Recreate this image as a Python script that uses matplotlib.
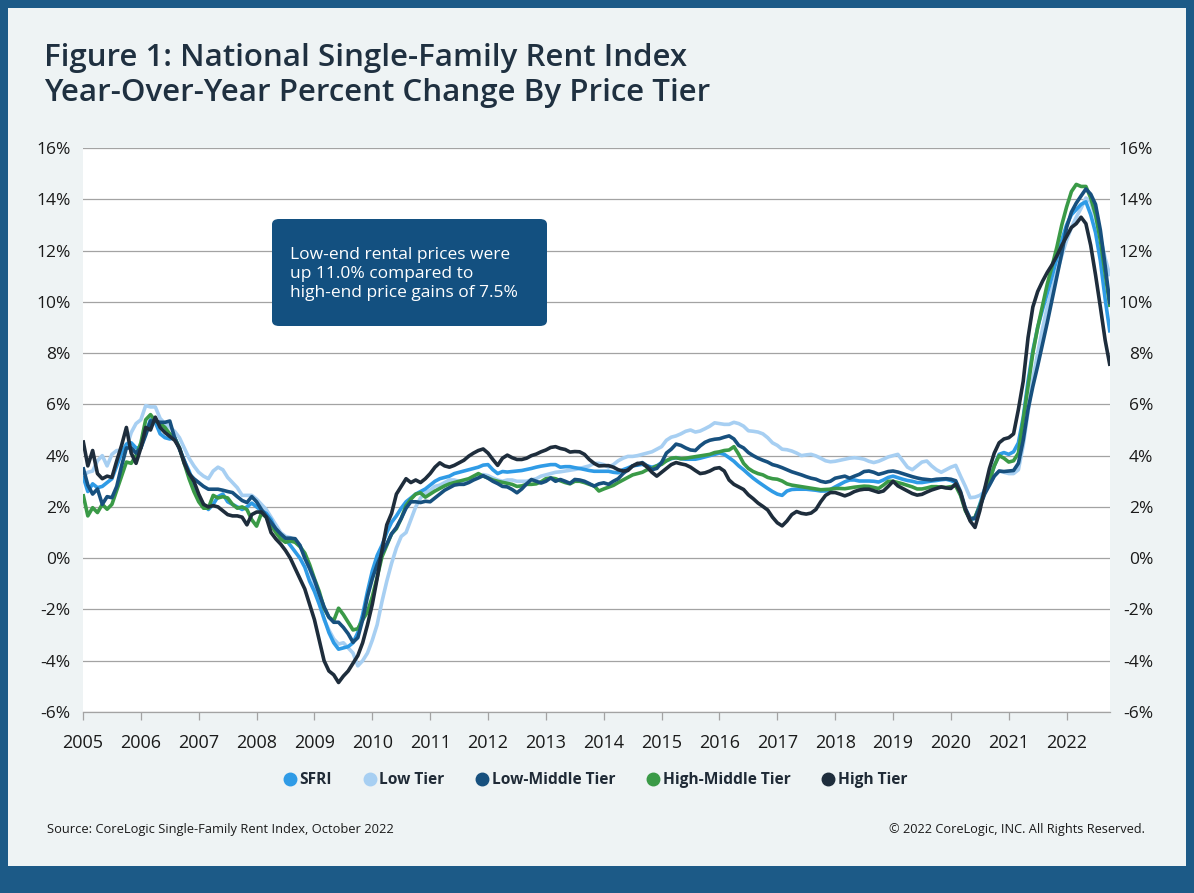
import numpy as np
import matplotlib
matplotlib.use("Agg")
import matplotlib.pyplot as plt
from matplotlib.patches import FancyBboxPatch, Rectangle
from matplotlib.lines import Line2D
from matplotlib.ticker import FuncFormatter, MultipleLocator

plt.rcParams['font.family'] = ['Open Sans', 'DejaVu Sans']

# ---------------- data (monthly YoY % change, Jan 2005 - Oct 2022) ----------------
start_year = 2005
year_ticks = list(range(2005, 2023))

sfri = [
    3.2, 2.6, 2.9, 2.75, 2.8, 2.95, 3.1, 3.6, 4.1, 4.45, 4.5, 4.3,
    4.3, 4.9, 5.4, 5.3, 4.85, 4.7, 4.65, 4.7, 4.3, 3.8, 3.4, 2.9,
    2.4, 2.1, 1.9, 2.1, 2.4, 2.5, 2.2, 2.1, 2.0, 1.9, 2.0, 2.15,
    2.0, 1.85, 1.75, 1.5, 1.1, 0.87, 0.74, 0.5, 0.25, 0.0, -0.35, -0.9,
    -1.3, -1.8, -2.35, -2.9, -3.3, -3.55, -3.5, -3.45, -3.3, -2.9, -2.2, -1.3,
    -0.5, 0.1, 0.5, 1.0, 1.4, 1.65, 1.95, 2.2, 2.35, 2.5, 2.6, 2.7,
    2.85, 3.0, 3.1, 3.15, 3.2, 3.3, 3.35, 3.4, 3.45, 3.5, 3.55, 3.63,
    3.65, 3.45, 3.3, 3.38, 3.36, 3.38, 3.4, 3.42, 3.46, 3.5, 3.55, 3.59,
    3.62, 3.65, 3.65, 3.55, 3.57, 3.57, 3.53, 3.5, 3.46, 3.42, 3.39, 3.39,
    3.39, 3.39, 3.35, 3.33, 3.45, 3.52, 3.6, 3.63, 3.66, 3.6, 3.55, 3.6,
    3.73, 3.8, 3.88, 3.92, 3.88, 3.86, 3.86, 3.86, 3.9, 3.95, 4.0, 4.05,
    4.1, 4.05, 3.92, 3.78, 3.6, 3.45, 3.28, 3.12, 2.98, 2.85, 2.72, 2.6,
    2.5, 2.45, 2.62, 2.68, 2.69, 2.69, 2.69, 2.67, 2.65, 2.62, 2.62, 2.68,
    2.78, 2.88, 2.98, 3.05, 3.05, 3.01, 3.01, 3.01, 3.0, 2.97, 3.05, 3.15,
    3.2, 3.14, 3.08, 3.03, 3.0, 2.95, 2.95, 2.98, 3.01, 3.03, 3.06, 3.08,
    3.03, 2.95, 2.5, 1.9, 1.5, 1.55, 2.1, 2.7, 3.1, 3.6, 4.05, 4.12,
    4.05, 4.15, 4.5, 5.5, 6.9, 8.1, 9.0, 9.7, 10.35, 11.0, 11.7, 12.4,
    13.0, 13.4, 13.6, 13.8, 13.9, 13.4, 12.7, 11.6, 10.1, 8.8,
]

low_tier = [
    3.2, 3.35, 3.4, 3.8, 4.0, 3.6, 4.05, 4.2, 4.2, 4.3, 4.9, 5.25,
    5.4, 5.95, 5.9, 5.9, 5.45, 5.25, 5.1, 4.95, 4.7, 4.3, 3.9, 3.6,
    3.35, 3.2, 3.1, 3.4, 3.55, 3.45, 3.15, 2.95, 2.75, 2.45, 2.45, 2.45,
    2.3, 2.1, 1.9, 1.6, 1.3, 1.0, 0.85, 0.8, 0.7, 0.5, 0.1, -0.4,
    -1.0, -1.7, -2.4, -2.8, -3.15, -3.35, -3.3, -3.5, -3.7, -4.2, -4.0, -3.7,
    -3.2, -2.6, -1.7, -0.9, -0.2, 0.4, 0.85, 1.0, 1.5, 2.0, 2.35, 2.55,
    2.65, 2.8, 2.85, 2.95, 3.05, 3.05, 3.0, 3.0, 3.05, 3.13, 3.2, 3.26,
    3.22, 3.13, 3.05, 3.0, 3.05, 3.05, 3.0, 3.0, 3.0, 3.05, 3.1, 3.2,
    3.25, 3.3, 3.35, 3.37, 3.4, 3.43, 3.46, 3.5, 3.55, 3.6, 3.7, 3.7,
    3.65, 3.55, 3.65, 3.8, 3.9, 3.97, 3.97, 4.0, 4.05, 4.1, 4.15, 4.25,
    4.35, 4.6, 4.72, 4.77, 4.85, 4.95, 5.0, 4.92, 4.96, 5.05, 5.15, 5.28,
    5.25, 5.22, 5.22, 5.3, 5.25, 5.15, 4.97, 4.95, 4.92, 4.85, 4.7, 4.5,
    4.4, 4.25, 4.23, 4.18, 4.1, 4.0, 4.03, 4.05, 3.99, 3.9, 3.8, 3.76,
    3.78, 3.82, 3.86, 3.9, 3.92, 3.9, 3.86, 3.78, 3.73, 3.78, 3.86, 3.95,
    4.0, 4.05, 3.8, 3.55, 3.45, 3.6, 3.75, 3.79, 3.6, 3.45, 3.35, 3.45,
    3.55, 3.62, 3.2, 2.8, 2.36, 2.38, 2.45, 2.6, 2.85, 3.2, 3.4, 3.35,
    3.3, 3.3, 3.45, 4.4, 5.7, 7.0, 8.0, 8.95, 9.8, 10.5, 11.15, 11.8,
    12.4, 12.9, 13.3, 13.65, 14.05, 13.9, 13.3, 12.5, 11.7, 11.0,
]

low_middle = [
    3.55, 2.85, 2.5, 2.7, 2.1, 2.4, 2.36, 2.8, 3.6, 4.3, 4.3, 4.1,
    4.3, 4.8, 5.35, 5.35, 5.3, 5.3, 5.35, 4.7, 4.25, 3.8, 3.3, 3.1,
    2.95, 2.8, 2.69, 2.69, 2.69, 2.65, 2.6, 2.56, 2.4, 2.25, 2.17, 2.4,
    2.2, 1.9, 1.65, 1.4, 1.15, 0.95, 0.78, 0.78, 0.76, 0.5, 0.0, -0.4,
    -0.85, -1.4, -1.9, -2.3, -2.5, -2.5, -2.7, -2.95, -3.28, -3.1, -2.4, -1.5,
    -0.8, -0.25, 0.2, 0.55, 0.95, 1.2, 1.55, 1.95, 2.2, 2.2, 2.17, 2.22,
    2.2, 2.35, 2.5, 2.65, 2.75, 2.85, 2.88, 2.88, 2.95, 3.05, 3.13, 3.22,
    3.12, 3.0, 2.91, 2.8, 2.78, 2.68, 2.55, 2.7, 2.9, 3.07, 3.0, 2.93,
    3.0, 3.13, 3.0, 3.07, 3.0, 2.92, 3.07, 3.05, 3.0, 2.91, 2.81, 2.9,
    2.94, 2.88, 3.0, 3.1, 3.3, 3.45, 3.6, 3.65, 3.73, 3.6, 3.45, 3.5,
    3.73, 4.1, 4.25, 4.45, 4.4, 4.3, 4.22, 4.2, 4.38, 4.52, 4.6, 4.64,
    4.66, 4.72, 4.77, 4.65, 4.4, 4.3, 4.12, 4.0, 3.9, 3.82, 3.75, 3.65,
    3.6, 3.53, 3.45, 3.37, 3.31, 3.25, 3.18, 3.12, 3.08, 3.0, 2.96, 3.0,
    3.12, 3.16, 3.2, 3.12, 3.2, 3.27, 3.38, 3.4, 3.35, 3.27, 3.32, 3.38,
    3.4, 3.36, 3.3, 3.24, 3.18, 3.13, 3.09, 3.07, 3.05, 3.08, 3.09, 3.1,
    3.08, 3.02, 2.6, 1.95, 1.55, 1.55, 2.0, 2.5, 2.85, 3.2, 3.4, 3.38,
    3.4, 3.42, 3.7, 4.6, 5.8, 6.7, 7.5, 8.35, 9.2, 10.1, 11.0, 11.9,
    12.9, 13.5, 13.85, 14.13, 14.4, 14.2, 13.8, 12.8, 11.4, 9.9,
]

high_middle = [
    2.5, 1.65, 1.97, 1.78, 2.1, 1.91, 2.1, 2.65, 3.2, 3.75, 3.7, 4.0,
    4.5, 5.4, 5.6, 5.35, 5.25, 5.1, 4.85, 4.7, 4.3, 3.7, 3.1, 2.6,
    2.2, 1.95, 1.95, 2.45, 2.35, 2.4, 2.35, 2.1, 1.95, 2.0, 1.9, 1.5,
    1.25, 1.75, 1.6, 1.3, 1.0, 0.75, 0.62, 0.67, 0.62, 0.45, 0.2, -0.25,
    -0.8, -1.3, -1.95, -2.3, -2.44, -1.95, -2.2, -2.5, -2.8, -2.75, -2.4, -2.1,
    -1.5, -0.75, 0.05, 0.5, 0.95, 1.15, 1.55, 2.05, 2.3, 2.5, 2.55, 2.38,
    2.5, 2.62, 2.72, 2.82, 2.9, 2.95, 3.0, 3.05, 3.1, 3.2, 3.3, 3.2,
    3.13, 3.05, 3.0, 2.96, 2.92, 2.88, 2.8, 2.82, 2.88, 2.88, 2.9, 2.98,
    3.1, 3.13, 3.1, 3.02, 2.95, 2.9, 3.0, 3.0, 2.95, 2.88, 2.82, 2.62,
    2.7, 2.77, 2.84, 2.95, 3.05, 3.15, 3.25, 3.3, 3.35, 3.45, 3.5, 3.6,
    3.66, 3.8, 3.9, 3.92, 3.88, 3.9, 3.93, 3.96, 3.99, 4.02, 4.05, 4.12,
    4.15, 4.2, 4.22, 4.35, 4.05, 3.7, 3.5, 3.38, 3.3, 3.25, 3.15, 3.1,
    3.08, 3.01, 2.9, 2.85, 2.82, 2.79, 2.76, 2.73, 2.7, 2.67, 2.68, 2.69,
    2.72, 2.72, 2.71, 2.74, 2.77, 2.79, 2.81, 2.8, 2.76, 2.72, 2.85, 3.0,
    3.0, 2.95, 2.9, 2.84, 2.78, 2.7, 2.7, 2.74, 2.79, 2.79, 2.77, 2.76,
    2.79, 2.82, 2.45, 1.85, 1.5, 1.6, 2.05, 2.55, 3.0, 3.6, 4.0, 3.9,
    3.75, 3.8, 4.1, 5.4, 6.7, 8.0, 9.0, 9.85, 10.7, 11.4, 12.15, 13.0,
    13.7, 14.3, 14.58, 14.5, 14.5, 14.05, 13.4, 12.4, 11.1, 9.8,
]

high_tier = [
    4.6, 3.6, 4.2, 3.3, 3.1, 3.2, 3.15, 3.8, 4.4, 5.1, 4.1, 3.7,
    4.3, 5.1, 5.0, 5.5, 5.1, 4.9, 4.75, 4.6, 4.3, 3.7, 3.3, 3.0,
    2.5, 2.1, 2.0, 2.05, 2.0, 1.85, 1.7, 1.65, 1.65, 1.6, 1.3, 1.7,
    1.8, 1.8, 1.6, 1.0, 0.75, 0.55, 0.3, 0.0, -0.4, -0.8, -1.2, -1.8,
    -2.4, -3.2, -4.0, -4.4, -4.55, -4.85, -4.6, -4.4, -4.1, -3.8, -3.3, -2.6,
    -1.8, -0.8, 0.3, 1.3, 1.75, 2.5, 2.8, 3.1, 2.95, 3.05, 2.95, 3.1,
    3.3, 3.55, 3.72, 3.6, 3.55, 3.62, 3.72, 3.82, 3.98, 4.1, 4.2, 4.26,
    4.1, 3.85, 3.62, 3.9, 4.02, 3.92, 3.85, 3.85, 3.9, 4.0, 4.06, 4.15,
    4.22, 4.32, 4.35, 4.28, 4.24, 4.14, 4.16, 4.15, 4.05, 3.85, 3.7, 3.6,
    3.61, 3.61, 3.55, 3.45, 3.4, 3.42, 3.6, 3.7, 3.7, 3.55, 3.35, 3.2,
    3.35, 3.5, 3.65, 3.73, 3.68, 3.64, 3.55, 3.42, 3.3, 3.33, 3.4, 3.5,
    3.53, 3.4, 3.05, 2.88, 2.78, 2.68, 2.47, 2.32, 2.15, 2.02, 1.88, 1.6,
    1.38, 1.26, 1.45, 1.7, 1.82, 1.75, 1.72, 1.76, 1.9, 2.2, 2.45, 2.56,
    2.56, 2.5, 2.43, 2.5, 2.6, 2.66, 2.69, 2.69, 2.63, 2.57, 2.62, 2.8,
    3.0, 2.82, 2.72, 2.62, 2.52, 2.46, 2.49, 2.58, 2.66, 2.72, 2.78, 2.74,
    2.72, 2.9, 2.55, 1.9, 1.45, 1.2, 1.85, 2.7, 3.5, 4.1, 4.5, 4.65,
    4.7, 4.85, 5.8, 6.9, 8.6, 9.8, 10.4, 10.8, 11.15, 11.45, 11.8, 12.2,
    12.55, 12.9, 13.05, 13.3, 13.05, 12.2, 11.05, 9.8, 8.5, 7.5,
]

series_names = ["SFRI", "Low Tier", "Low-Middle Tier", "High-Middle Tier", "High Tier"]
series_colors = ["#2f9be6", "#a7cff2", "#17507e", "#3a9a47", "#1e2d3c"]

title_lines = ["Figure 1: National Single-Family Rent Index",
               "Year-Over-Year Percent Change By Price Tier"]
note_text = "Low-end rental prices were\nup 11.0% compared to\nhigh-end price gains of 7.5%"
source_text = "Source: CoreLogic Single-Family Rent Index, October 2022"
copyright_text = "\u00a9 2022 CoreLogic, INC. All Rights Reserved."

# ---------------- figure ----------------
W, H = 1194, 893
fig = plt.figure(figsize=(W / 100, H / 100), dpi=100)
fig.patch.set_facecolor("#1c5a87")

def fx(px):
    return px / W

def fy(py):
    return 1 - py / H

# inner light panel (border frame = blue fig background)
fig.add_artist(Rectangle((fx(8), fy(866)), fx(1186) - fx(8), fy(8) - fy(866),
                         transform=fig.transFigure, facecolor="#eef3f4",
                         edgecolor="none", zorder=0))

ax = fig.add_axes([fx(83), fy(712), fx(1110) - fx(83), fy(148) - fy(712)])
ax.set_facecolor("white")

n = len(sfri)
x = start_year + np.arange(n) / 12.0

data = {"SFRI": sfri, "Low Tier": low_tier, "Low-Middle Tier": low_middle,
        "High-Middle Tier": high_middle, "High Tier": high_tier}
color_map = dict(zip(series_names, series_colors))
draw_order = ["Low Tier", "SFRI", "High-Middle Tier", "Low-Middle Tier", "High Tier"]
for z, name in enumerate(draw_order):
    ax.plot(x, data[name], color=color_map[name], lw=2.6, zorder=3 + z,
            solid_joinstyle="round", solid_capstyle="butt")

ax.set_xlim(2005, 2022.75)
ax.set_ylim(-6, 16)
ax.yaxis.set_major_locator(MultipleLocator(2))
ax.yaxis.set_major_formatter(FuncFormatter(lambda v, p: f"{int(round(v))}%"))
ax.set_xticks(year_ticks)
ax.set_xticklabels([str(y) for y in year_ticks])
ax.grid(axis="y", color="#a3a3a3", lw=0.9, zorder=1)
for s in ["top", "left", "right"]:
    ax.spines[s].set_visible(False)
ax.spines["bottom"].set_color("#a3a3a3")
ax.spines["bottom"].set_linewidth(0.9)
ax.tick_params(axis="x", length=6, width=0.9, color="#a3a3a3", pad=10,
               labelsize=13, labelcolor="#1a1a1a")
ax.tick_params(axis="y", length=0, pad=9, labelsize=12.5, labelcolor="#1a1a1a")

ax2 = ax.twinx()
ax2.set_ylim(-6, 16)
ax2.yaxis.set_major_locator(MultipleLocator(2))
ax2.yaxis.set_major_formatter(FuncFormatter(lambda v, p: f"{int(round(v))}%"))
for s in ["top", "left", "right", "bottom"]:
    ax2.spines[s].set_visible(False)
ax2.tick_params(axis="y", length=0, pad=31, labelsize=12.5, labelcolor="#1a1a1a")
for lab in ax2.get_yticklabels():
    lab.set_horizontalalignment("right")

# title
fig.text(fx(44), fy(58), title_lines[0], fontsize=22.5, fontweight="semibold",
         color="#1f3040", va="center", ha="left")
fig.text(fx(44), fy(93), title_lines[1], fontsize=22.5, fontweight="semibold",
         color="#1f3040", va="center", ha="left")

# annotation box
box = FancyBboxPatch((fx(272), fy(326)), fx(547) - fx(272), fy(219) - fy(326),
                     boxstyle="round,pad=0,rounding_size=0.006",
                     transform=fig.transFigure, facecolor="#135080",
                     edgecolor="none", zorder=10)
fig.add_artist(box)
fig.text(fx(290), fy(274), note_text, fontsize=12.5, color="white",
         va="center", ha="left", linespacing=1.22, zorder=11)

# legend
handles = [Line2D([0], [0], marker="o", linestyle="none", markersize=9,
                  markerfacecolor=color_map[nm], markeredgecolor=color_map[nm])
           for nm in series_names]
leg = fig.legend(handles, series_names, loc="center", ncol=5,
                 bbox_to_anchor=(fx(595), fy(780)), frameon=False,
                 handletextpad=0.15, columnspacing=2.0, handlelength=0.9,
                 prop={"size": 11.2, "weight": "bold"})
for t in leg.get_texts():
    t.set_color("#1f2a36")

# footer
fig.text(fx(47), fy(830), source_text, fontsize=9.3, color="#1a1a1a",
         va="center", ha="left")
fig.text(fx(1145), fy(830), copyright_text, fontsize=9.2, color="#1a1a1a",
         va="center", ha="right")

fig.savefig("out.png", dpi=100, facecolor=fig.get_facecolor())
